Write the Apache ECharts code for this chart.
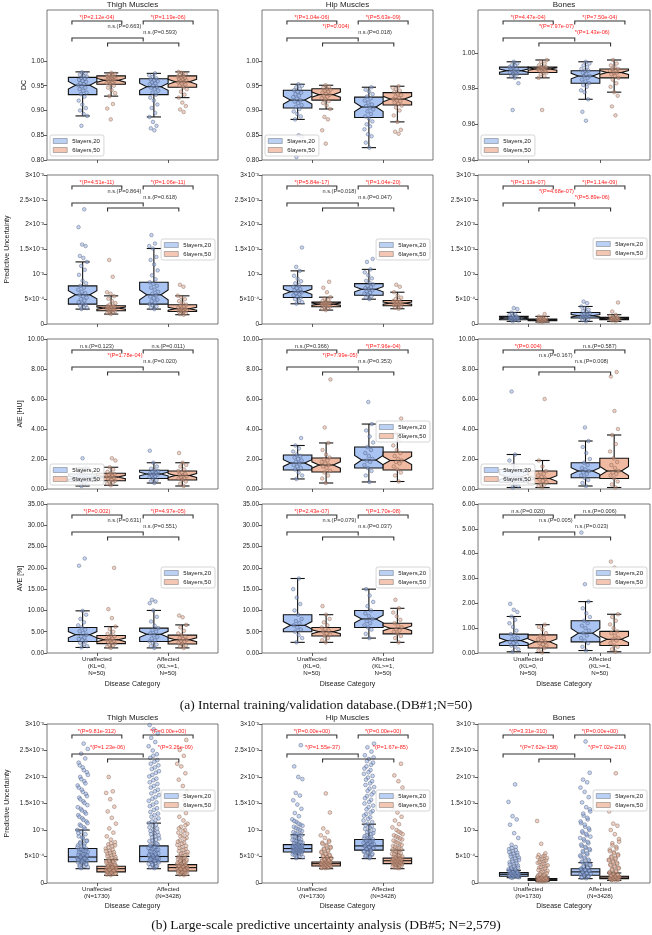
<!DOCTYPE html>
<html><head><meta charset="utf-8">
<script src="https://cdn.jsdelivr.net/npm/echarts@6/dist/echarts.min.js"></script>
<style>html,body{margin:0;padding:0;background:#fff}#c{width:652px;height:935px}</style>
</head><body><div id="c"></div>
<script>
// ---------------- DATA ----------------
const titles = ['Thigh Muscles', 'Hip Muscles', 'Bones'];
const hueNames = ['5layers,20', '6layers,50'];
const catLabelsA = ['Unaffected\n(KL=0,\nN=50)', 'Affected\n(KL>=1,\nN=50)'];
const catLabelsB = ['Unaffected\n(N=1730)', 'Affected\n(N=3428)'];
const yNames = ['DC', 'Predictive Uncertainty', 'AIE [HU]', 'AVE [%]', 'Predictive Uncertainty'];
const captionA = '(a) Internal training/validation database.(DB#1;N=50)';
const captionB = '(b) Large-scale predictive uncertainty analysis (DB#5; N=2,579)';
// tick labels (predictive uncertainty in units of 1e-4)
const puTicks = [0, 5, 10, 15, 20, 25, 30];
const puTickLabels = ['0', '5×10⁻⁴', '10⁻³', '1.5×10⁻³', '2×10⁻³', '2.5×10⁻³', '3×10⁻³'];
const dcTicks = [0.80, 0.85, 0.90, 0.95, 1.00];
const dcBoneTicks = [0.94, 0.96, 0.98, 1.00];
const aieTicks = [0, 2, 4, 6, 8, 10];
const aveTicks = [0, 5, 10, 15, 20, 25, 30, 35];
const aveBoneTicks = [0, 1, 2, 3, 4, 5, 6];

// box stats: [lowWhisker, Q1, median, Q3, highWhisker] for [Unaff-5l, Unaff-6l, Aff-5l, Aff-6l]
const dcThighBox = [[0.889,0.932,0.951,0.967,0.978],[0.929,0.953,0.961,0.970,0.976],[0.887,0.932,0.948,0.964,0.975],[0.926,0.947,0.958,0.970,0.978]];
const dcHipBox = [[0.882,0.905,0.921,0.941,0.953],[0.903,0.921,0.932,0.944,0.951],[0.825,0.886,0.907,0.927,0.947],[0.877,0.911,0.923,0.936,0.949]];
const dcBoneBox = [[0.986,0.988,0.990,0.992,0.995],[0.986,0.989,0.991,0.992,0.996],[0.974,0.983,0.987,0.990,0.995],[0.978,0.986,0.989,0.991,0.996]];
const puThighBox = [[3.0,4.0,5.87,7.67,12.5],[2.0,2.67,3.2,3.67,5.67],[3.0,4.0,5.87,8.4,15.2],[1.87,2.53,3.07,3.87,5.67]];
const puHipBox = [[4.07,5.33,6.5,7.7,10.7],[2.8,3.47,4.0,4.4,5.4],[5.0,5.8,7.0,8.13,11.0],[3.07,3.67,4.2,4.73,6.4]];
const puBoneBox = [[0.53,0.87,1.2,1.53,2.33],[0.4,0.67,0.87,1.0,1.53],[0.53,1.2,1.67,2.33,3.53],[0.53,0.87,1.07,1.33,1.87]];
const aieThighBox = [[0.2,0.5,0.75,1.0,1.4],[0.25,0.55,0.8,1.05,1.45],[0.4,0.7,1.0,1.25,1.75],[0.2,0.6,0.9,1.2,1.75]];
const aieHipBox = [[0.67,1.27,1.73,2.27,2.9],[0.4,1.13,1.6,2.07,3.07],[0.47,1.4,1.93,2.8,4.33],[0.5,1.27,1.9,2.47,3.7]];
const aieBoneBox = [[0.1,0.45,0.8,1.3,2.3],[0.1,0.35,0.7,1.2,1.9],[0.2,0.75,1.2,1.75,3.2],[0.1,0.7,1.2,2.05,3.6]];
const aveThighBox = [[1.3,2.7,4.3,6.0,9.9],[1.2,2.2,3.1,4.1,6.2],[1.2,2.7,4.4,5.85,10.0],[1.2,2.1,3.1,4.2,6.6]];
const aveHipBox = [[2.5,5.0,6.5,9.0,17.5],[2.5,4.0,5.0,6.0,9.0],[3.5,6.0,8.0,10.0,15.0],[2.5,4.5,5.8,7.0,10.5]];
const aveBoneBox = [[0.05,0.3,0.5,0.76,1.47],[0.02,0.2,0.45,0.73,1.14],[0.1,0.45,0.8,1.3,2.07],[0.05,0.3,0.55,0.87,1.56]];
const lsThighBox = [[2.7,4.0,4.9,6.5,10.0],[1.45,2.1,2.7,3.15,4.4],[2.7,4.0,5.0,7.0,11.3],[1.45,2.27,2.9,3.47,5.0]];
const lsHipBox = [[4.6,5.86,6.5,7.25,9.1],[2.7,3.2,3.65,3.97,4.8],[4.6,6.2,7.0,8.2,11.1],[2.7,3.65,4.2,4.7,6.2]];
const lsBoneBox = [[1.0,1.26,1.64,1.95,2.4],[0.32,0.5,0.69,0.82,1.13],[0.82,1.45,2.1,2.7,3.84],[0.5,0.82,1.13,1.26,1.89]];

// individual points
const dcThighPts = [
 [0.869,0.889,0.893,0.900,0.905,0.912,0.920,0.928,0.933,0.936,0.940,0.943,0.946,0.949,0.951,0.953,0.955,0.958,0.960,0.962,0.964,0.966,0.968,0.970,0.972,0.975,0.977],
 [0.882,0.904,0.913,0.929,0.935,0.941,0.946,0.950,0.953,0.955,0.957,0.959,0.960,0.961,0.962,0.963,0.964,0.965,0.966,0.967,0.968,0.969,0.970,0.971,0.972,0.974,0.976],
 [0.860,0.864,0.869,0.877,0.887,0.895,0.905,0.912,0.920,0.926,0.932,0.936,0.940,0.943,0.946,0.948,0.950,0.953,0.955,0.957,0.959,0.961,0.963,0.965,0.968,0.971,0.975],
 [0.897,0.902,0.909,0.916,0.926,0.932,0.938,0.943,0.947,0.950,0.953,0.955,0.957,0.958,0.960,0.961,0.963,0.964,0.966,0.967,0.969,0.970,0.972,0.974,0.976,0.978]];
const dcHipPts = [
 [0.806,0.847,0.850,0.882,0.888,0.893,0.898,0.903,0.907,0.911,0.915,0.918,0.921,0.924,0.927,0.930,0.933,0.936,0.938,0.941,0.944,0.947,0.950,0.953],
 [0.833,0.860,0.882,0.887,0.903,0.910,0.915,0.919,0.922,0.925,0.928,0.930,0.932,0.934,0.936,0.938,0.940,0.942,0.944,0.946,0.948,0.951],
 [0.825,0.835,0.848,0.852,0.862,0.868,0.872,0.878,0.884,0.888,0.893,0.898,0.902,0.906,0.909,0.912,0.916,0.920,0.924,0.928,0.933,0.938,0.942,0.947],
 [0.853,0.857,0.861,0.877,0.890,0.900,0.906,0.910,0.913,0.916,0.919,0.921,0.923,0.925,0.928,0.931,0.934,0.937,0.940,0.943,0.946,0.949]];
const dcBonePts = [
 [0.968,0.983,0.986,0.987,0.988,0.988,0.989,0.989,0.990,0.990,0.990,0.991,0.991,0.992,0.992,0.993,0.993,0.994,0.995],
 [0.968,0.986,0.987,0.988,0.989,0.989,0.990,0.990,0.991,0.991,0.991,0.992,0.992,0.992,0.993,0.994,0.995,0.996],
 [0.962,0.967,0.974,0.978,0.979,0.981,0.982,0.983,0.984,0.985,0.986,0.987,0.987,0.988,0.989,0.990,0.990,0.991,0.992,0.993,0.994,0.995],
 [0.965,0.970,0.976,0.978,0.981,0.983,0.985,0.986,0.987,0.988,0.989,0.989,0.990,0.990,0.991,0.991,0.992,0.993,0.994,0.996]];
const puThighPts = [
 [3.0,3.2,3.4,3.7,3.9,4.1,4.4,4.7,5.0,5.3,5.6,5.9,6.2,6.5,6.9,7.3,7.7,8.2,8.7,9.9,10.9,11.7,12.5,13.3,13.7,15.7,16.0,19.5,23.1],
 [2.0,2.2,2.4,2.5,2.6,2.7,2.8,2.9,3.0,3.1,3.2,3.3,3.4,3.5,3.6,3.7,3.9,4.2,4.6,5.1,5.6,6.1,6.4,9.5,12.9],
 [3.0,3.2,3.5,3.8,4.0,4.3,4.6,4.9,5.2,5.5,5.8,6.1,6.5,6.9,7.3,7.7,8.1,8.4,9.0,9.8,10.8,12.0,12.9,13.5,15.2,15.7,16.2,17.9],
 [1.87,2.0,2.2,2.4,2.5,2.6,2.7,2.8,2.9,3.0,3.1,3.2,3.3,3.5,3.7,3.9,4.2,4.6,5.0,5.4,5.7,7.5,7.9]];
const puHipPts = [
 [4.1,4.4,4.7,5.0,5.3,5.5,5.8,6.0,6.2,6.4,6.6,6.8,7.0,7.2,7.5,7.8,8.2,8.6,9.1,9.7,10.7,11.5,15.4],
 [2.8,3.0,3.2,3.4,3.5,3.6,3.7,3.8,3.9,4.0,4.1,4.2,4.3,4.4,4.6,4.8,5.1,5.4,6.4,7.3,8.5],
 [5.0,5.3,5.6,5.9,6.1,6.3,6.6,6.8,7.0,7.2,7.4,7.7,8.0,8.3,8.7,9.2,9.8,10.4,11.0,12.5,13.1],
 [3.07,3.3,3.5,3.7,3.8,3.9,4.0,4.1,4.2,4.3,4.4,4.5,4.6,4.8,5.0,5.3,5.7,6.4,7.5,7.9]];
const puBonePts = [
 [0.55,0.7,0.8,0.9,1.0,1.05,1.1,1.15,1.2,1.25,1.3,1.4,1.5,1.6,1.8,2.0,2.3,3.0,3.2],
 [0.4,0.5,0.6,0.65,0.7,0.75,0.8,0.85,0.9,0.95,1.0,1.1,1.2,1.35,1.5,2.0],
 [0.55,0.8,1.0,1.2,1.3,1.4,1.5,1.6,1.7,1.8,1.9,2.0,2.2,2.4,2.6,2.9,3.2,3.5,4.2,4.5],
 [0.55,0.7,0.8,0.9,0.95,1.0,1.05,1.1,1.15,1.2,1.3,1.4,1.6,1.85,2.5,4.33]];
const aieThighPts = [
 [0.2,0.3,0.4,0.45,0.5,0.55,0.6,0.65,0.7,0.75,0.8,0.85,0.9,0.95,1.0,1.1,1.2,1.4,2.05],
 [0.25,0.35,0.45,0.5,0.55,0.6,0.7,0.75,0.8,0.85,0.9,0.95,1.0,1.05,1.15,1.3,1.45,1.9,2.05],
 [0.4,0.5,0.6,0.7,0.8,0.85,0.9,0.95,1.0,1.05,1.1,1.15,1.2,1.25,1.35,1.5,1.75,2.55],
 [0.2,0.35,0.5,0.6,0.7,0.75,0.8,0.85,0.9,0.95,1.0,1.1,1.2,1.3,1.5,1.6,1.75,2.4]];
const aieHipPts = [
 [0.67,0.9,1.1,1.3,1.4,1.5,1.6,1.7,1.8,1.9,2.0,2.1,2.2,2.3,2.5,2.7,2.9,3.4],
 [0.4,0.7,0.9,1.1,1.2,1.4,1.5,1.6,1.7,1.8,1.9,2.0,2.1,2.3,2.6,3.07,4.1,7.3],
 [0.47,0.9,1.2,1.4,1.6,1.8,1.9,2.0,2.2,2.4,2.6,2.8,3.1,3.5,3.9,4.33,5.8],
 [0.5,0.9,1.1,1.3,1.5,1.7,1.8,1.9,2.0,2.2,2.4,2.6,2.9,3.3,3.7,4.7]];
const aieBonePts = [
 [0.1,0.2,0.3,0.4,0.5,0.6,0.7,0.8,0.9,1.0,1.1,1.2,1.4,1.6,1.9,2.3,6.5],
 [0.1,0.2,0.3,0.35,0.45,0.55,0.65,0.7,0.8,0.9,1.0,1.1,1.2,1.5,1.9,6.0],
 [0.2,0.4,0.6,0.75,0.9,1.0,1.1,1.2,1.3,1.4,1.6,1.75,2.0,2.4,2.8,3.2,4.1],
 [0.1,0.3,0.5,0.7,0.9,1.0,1.1,1.2,1.4,1.6,1.8,2.05,2.5,3.0,3.6,4.0,5.2,7.5,7.8]];
const aveThighPts = [
 [1.3,1.6,2.0,2.4,2.7,3.0,3.3,3.6,3.9,4.3,4.7,5.1,5.5,6.0,6.5,7.2,8.0,9.0,9.9,20.5,22.2],
 [1.2,1.5,1.8,2.0,2.2,2.4,2.6,2.8,3.0,3.2,3.4,3.6,3.9,4.1,4.5,5.0,5.6,6.2,8.2,10.3,20.0],
 [1.2,1.6,2.0,2.4,2.7,3.0,3.4,3.8,4.2,4.6,5.0,5.4,5.85,6.4,7.4,8.5,10.0,11.7,12.1,12.5],
 [1.2,1.5,1.8,2.1,2.4,2.7,2.9,3.1,3.3,3.5,3.8,4.2,4.6,5.2,6.0,6.6,8.4,8.8]];
const aveHipPts = [
 [2.5,3.5,4.2,5.0,5.5,6.0,6.5,7.0,7.5,8.0,9.0,10.0,11.5,13.0,15.0,17.5],
 [2.5,3.0,3.5,4.0,4.3,4.6,5.0,5.3,5.6,6.0,6.5,7.2,8.0,9.0,11.0],
 [3.5,4.5,5.5,6.0,6.5,7.0,7.5,8.0,8.7,9.3,10.0,11.0,12.0,13.5,15.0],
 [2.5,3.5,4.0,4.5,5.0,5.3,5.6,6.0,6.4,7.0,7.8,8.6,9.5,10.5,12.5]];
const aveBonePts = [
 [0.05,0.15,0.25,0.3,0.35,0.4,0.45,0.5,0.55,0.6,0.7,0.76,0.9,1.05,1.2,1.34,1.47,1.65,1.74,1.98],
 [0.02,0.1,0.2,0.25,0.3,0.35,0.4,0.45,0.5,0.55,0.6,0.7,0.8,0.95,1.05,1.14],
 [0.1,0.25,0.4,0.5,0.6,0.7,0.8,0.9,1.0,1.1,1.2,1.3,1.45,1.6,1.8,2.07,2.77,4.85],
 [0.05,0.15,0.25,0.3,0.4,0.5,0.55,0.6,0.7,0.8,0.87,1.0,1.15,1.3,1.45,1.56,3.44,3.68]];
const lsThighPts = [
 [2.8,3.0,3.2,3.4,3.6,3.8,3.9,4.0,4.1,4.2,4.3,4.4,4.5,4.6,4.7,4.8,4.9,5.0,5.1,5.3,5.5,5.7,5.9,6.1,6.3,6.5,6.8,7.1,7.4,7.7,8.0,8.4,8.8,9.2,9.6,10.0,10.5,11.0,11.6,12.2,12.8,13.4,14.0,14.7,15.4,16.1,16.8,17.6,18.4,19.2,20.0,20.9,21.8,22.7,23.5,24.4,25.3,26.3,
  3.1,3.5,4.05,4.35,4.65,4.95,5.2,5.4,5.8,6.0,6.4,6.7,7.0,7.5,7.9,8.6,9.4,10.2,10.8,11.3,11.9,12.5,13.1,13.7,14.3,15.1,15.8,16.4,17.2,18.0,18.8,19.6,20.4,21.3,22.2],
 [1.5,1.6,1.7,1.8,1.9,2.0,2.1,2.2,2.3,2.4,2.5,2.6,2.7,2.8,2.9,3.0,3.1,3.2,3.3,3.5,3.7,3.9,4.1,4.3,4.6,4.9,5.2,5.5,5.8,6.1,6.5,6.9,7.3,7.7,8.2,8.8,9.5,10.3,11.2,12.3,13.5,14.4,15.8,17.0,17.3,20.0,
  1.75,1.95,2.15,2.35,2.55,2.75,2.95,3.15,3.4,3.6,3.8,4.0,4.2,4.45,4.75,5.05,5.35,5.65,6.0,6.3,6.7,7.1,7.5],
 [2.8,3.0,3.2,3.4,3.6,3.8,4.0,4.1,4.2,4.3,4.4,4.5,4.6,4.7,4.8,4.9,5.0,5.1,5.2,5.4,5.6,5.8,6.0,6.2,6.4,6.6,6.8,7.0,7.3,7.6,7.9,8.2,8.6,9.0,9.4,9.8,10.3,10.8,11.3,11.9,12.5,13.1,13.8,14.5,15.2,15.9,16.6,17.3,18.0,18.7,19.4,20.1,20.8,21.5,22.2,22.9,23.6,24.3,25.0,25.8,26.6,27.4,28.2,29.0,29.8,
  3.1,3.5,3.9,4.15,4.45,4.75,5.05,5.3,5.5,5.9,6.3,6.7,7.1,7.5,8.0,8.4,8.8,9.2,9.6,10.0,10.5,11.0,11.6,12.2,12.8,13.4,14.1,14.8,15.5,16.2,16.9,17.6,18.3,19.0,19.7,20.4,21.1,21.8,22.5,23.2,24.0],
 [1.5,1.6,1.7,1.8,1.9,2.0,2.1,2.2,2.3,2.4,2.5,2.6,2.7,2.8,2.9,3.0,3.1,3.2,3.3,3.4,3.5,3.7,3.9,4.1,4.3,4.5,4.8,5.1,5.4,5.7,6.0,6.4,6.8,7.2,7.6,8.0,8.5,9.0,9.5,10.0,10.6,11.2,11.8,12.5,13.2,14.0,14.8,15.7,16.6,17.2,18.3,19.5,20.7,22.0,22.5,24.0,25.1,27.0,
  2.05,2.25,2.45,2.65,2.85,3.05,3.25,3.45,3.6,3.8,4.0,4.2,4.4,4.65,4.95,5.25,5.55,5.85,6.2,6.6,7.0,7.4,7.8,8.3,8.8,9.3,9.8,10.3,10.9]];
const lsHipPts = [
 [4.7,4.9,5.1,5.3,5.5,5.7,5.8,5.9,6.0,6.1,6.2,6.3,6.4,6.5,6.6,6.7,6.8,6.9,7.0,7.1,7.2,7.4,7.6,7.8,8.0,8.2,8.5,8.8,9.1,9.4,9.8,10.2,10.6,11.0,11.5,12.0,12.6,13.2,14.0,14.8,15.6,16.5,17.0,19.6,20.0,22.0,26.0,
  5.0,5.4,5.6,5.75,5.85,5.95,6.05,6.15,6.25,6.35,6.45,6.55,6.65,6.75,6.85,6.95,7.05,7.15,7.3,7.5,7.7,7.9,8.1,8.4,8.7,9.0,9.3,9.6,10.0,10.4,10.8,11.2,11.7],
 [2.8,2.9,3.0,3.1,3.2,3.3,3.4,3.5,3.6,3.7,3.8,3.9,4.0,4.1,4.2,4.3,4.5,4.7,4.9,5.1,5.3,5.6,5.9,6.2,6.5,6.8,7.2,7.6,8.0,8.5,9.0,9.6,10.3,13.3,16.9,
  2.85,2.95,3.05,3.15,3.25,3.35,3.45,3.55,3.65,3.75,3.85,3.95,4.05,4.15,4.25,4.4,4.6,4.8,5.0,5.2,5.45,5.75,6.05,6.35,6.65,7.0,7.4,7.8],
 [4.7,5.0,5.3,5.6,5.9,6.1,6.3,6.5,6.7,6.9,7.0,7.1,7.3,7.5,7.7,7.9,8.1,8.4,8.7,9.0,9.4,9.8,10.2,10.7,11.2,11.8,12.4,13.0,13.6,14.3,15.0,15.7,16.4,17.1,17.8,18.5,19.2,19.9,20.6,21.3,22.0,22.7,23.4,24.1,24.8,25.6,26.3,
  4.9,5.2,5.5,5.8,6.0,6.2,6.4,6.6,6.8,7.05,7.2,7.4,7.6,7.8,8.0,8.25,8.55,8.85,9.2,9.6,10.0,10.45,10.9,11.5,12.1,12.7,13.3,13.9,14.6,15.3,16.0,16.7,17.4,18.1,18.8,19.5,20.2,20.9,21.6,22.3,23.0,23.7],
 [2.8,3.0,3.2,3.4,3.5,3.6,3.7,3.8,3.9,4.0,4.1,4.2,4.3,4.4,4.5,4.6,4.7,4.9,5.1,5.3,5.5,5.8,6.1,6.4,6.7,7.0,7.4,7.8,8.2,8.6,9.0,9.5,10.0,10.5,11.1,11.8,12.5,13.3,14.2,15.2,16.2,18.0,19.2,20.3,22.5,
  2.9,3.1,3.3,3.45,3.55,3.65,3.75,3.85,3.95,4.05,4.15,4.25,4.35,4.45,4.55,4.65,4.8,5.0,5.2,5.4,5.65,5.95,6.25,6.55,6.85,7.2,7.6,8.0,8.4,8.8,9.2,9.7]];
const lsBonePts = [
 [1.0,1.1,1.2,1.3,1.4,1.5,1.6,1.7,1.8,1.9,2.0,2.1,2.2,2.4,2.6,2.8,3.0,3.3,3.6,3.9,4.2,4.5,4.8,5.1,5.4,5.7,6.0,6.4,6.8,7.2,8.5,9.4,11.0,12.0,12.6,15.3,18.6,
  1.05,1.15,1.25,1.35,1.45,1.55,1.65,1.75,1.85,1.95,2.05,2.3,2.5,2.7,2.9,3.15,3.45,3.75,4.05,4.35,4.65,4.95,5.25,5.55,5.85,6.2,6.6],
 [0.35,0.4,0.45,0.5,0.55,0.6,0.65,0.7,0.75,0.8,0.9,1.0,1.1,1.3,1.5,1.7,2.0,2.3,2.6,2.9,3.2,3.5,3.8,4.1,4.4,4.7,5.0,5.3,5.6,7.4,11.7,
  0.38,0.42,0.48,0.52,0.58,0.62,0.68,0.72,0.78,0.85,0.95,1.05,1.2,1.4,1.6,1.85,2.15,2.45,2.75,3.05,3.35,3.65,3.95,4.25,4.55,4.85,5.15],
 [0.9,1.0,1.2,1.4,1.6,1.8,2.0,2.2,2.4,2.6,2.8,3.0,3.3,3.6,3.9,4.2,4.6,5.0,5.4,5.8,6.2,6.6,7.0,7.5,8.0,8.5,9.0,9.5,10.0,10.6,11.3,12.0,12.7,13.5,14.3,15.2,16.2,17.2,18.0,19.0,19.5,20.8,26.7,
  1.1,1.3,1.5,1.7,1.9,2.1,2.3,2.5,2.7,2.9,3.15,3.45,3.75,4.05,4.4,4.8,5.2,5.6,6.0,6.4,6.8,7.25,7.75,8.25,8.75,9.25,9.75,10.3,11.0,11.6,12.3,13.1,13.9],
 [0.5,0.6,0.7,0.8,0.9,1.0,1.1,1.2,1.3,1.4,1.6,1.8,2.0,2.3,2.6,2.9,3.2,3.5,3.8,4.1,4.4,4.7,5.0,5.4,5.8,6.3,6.8,7.5,8.3,9.2,10.0,10.8,11.2,13.5,20.7,
  0.55,0.65,0.75,0.85,0.95,1.05,1.15,1.25,1.35,1.5,1.7,1.9,2.15,2.45,2.75,3.05,3.35,3.65,3.95,4.25,4.55,4.85,5.2,5.6,6.0,6.5,7.1,7.8]];

// p-value annotations: [Unaff 5l vs 6l, Aff 5l vs 6l, 5l Unaff vs Aff, 6l Unaff vs Aff]
const dcThighP = ['*(P=2.12e-04)', '*(P=1.19e-06)', 'n.s.(P=0.663)', 'n.s.(P=0.593)'];
const dcHipP = ['*(P=1.04e-06)', '*(P=5.63e-09)', '*(P=0.004)', 'n.s.(P=0.018)'];
const dcBoneP = ['*(P=4.47e-04)', '*(P=7.50e-04)', '*(P=7.97e-07)', '*(P=1.43e-06)'];
const puThighP = ['*(P=4.51e-11)', '*(P=1.06e-11)', 'n.s.(P=0.864)', 'n.s.(P=0.618)'];
const puHipP = ['*(P=5.84e-17)', '*(P=1.04e-20)', 'n.s.(P=0.018)', 'n.s.(P=0.047)'];
const puBoneP = ['*(P=1.13e-07)', '*(P=1.14e-09)', '*(P=4.68e-07)', '*(P=5.89e-06)'];
const aieThighP = ['n.s.(P=0.123)', 'n.s.(P=0.011)', '*(P=1.78e-04)', 'n.s.(P=0.020)'];
const aieHipP = ['n.s.(P=0.366)', '*(P=7.96e-04)', '*(P=7.99e-05)', 'n.s.(P=0.353)'];
const aieBoneP = ['*(P=0.004)', 'n.s.(P=0.587)', 'n.s.(P=0.167)', 'n.s.(P=0.008)'];
const aveThighP = ['*(P=0.002)', '*(P=4.97e-05)', 'n.s.(P=0.631)', 'n.s.(P=0.551)'];
const aveHipP = ['*(P=2.43e-07)', '*(P=1.70e-08)', 'n.s.(P=0.079)', 'n.s.(P=0.037)'];
const aveBoneP = ['n.s.(P=0.020)', 'n.s.(P=0.006)', 'n.s.(P=0.005)', 'n.s.(P=0.023)'];
const lsThighP = ['*(P=9.81e-312)', '*(P=0.00e+00)', '*(P=1.23e-06)', '*(P=3.26e-09)'];
const lsHipP = ['*(P=0.00e+00)', '*(P=0.00e+00)', '*(P=1.55e-37)', '*(P=1.67e-85)'];
const lsBoneP = ['*(P=3.31e-310)', '*(P=0.00e+00)', '*(P=7.62e-158)', '*(P=7.02e-216)'];

// ---------------- LAYOUT / STYLE ----------------
const FONT = 'Liberation Sans';
const HUE_FILL = ['#a9c4f2', '#f0b9a1'];
const PT_FILL = ['rgba(140,170,228,0.6)', 'rgba(222,160,134,0.6)'];
const PT_EDGE = ['rgba(70,82,110,0.85)', 'rgba(115,88,76,0.85)'];
const COL_L = [47, 262, 478], COL_W = [171, 171, 172];
const ROW_T = [10, 175, 339, 504, 724], ROW_H = [150, 149, 150, 149, 159];
const CENTERS = [-0.2, 0.2, 0.8, 1.2];
const BRACKETS = [[-0.35, 0.35], [0.65, 1.35], [-0.35, 0.65], [0.15, 1.15]];

const puFmt = v => { let k = 0; puTicks.forEach((t, i) => { if (Math.abs(t - v) < 1e-6) k = i; }); return puTickLabels[k]; };
const f2 = v => v.toFixed(2);
const Y_DC = {min: 0.80, max: 1.103, ticks: dcTicks, fmt: f2};
const Y_DCB = {min: 0.94, max: 1.024, ticks: dcBoneTicks, fmt: f2};
const Y_PU = {min: 0, max: 30, ticks: puTicks, fmt: puFmt};
const Y_AIE = {min: 0, max: 10, ticks: aieTicks, fmt: f2};
const Y_AVE = {min: 0, max: 35, ticks: aveTicks, fmt: f2};
const Y_AVEB = {min: 0, max: 6, ticks: aveBoneTicks, fmt: f2};

const panels = [
 {box: dcThighBox, pts: dcThighPts, p: dcThighP, y: Y_DC, leg: ['ll']},
 {box: dcHipBox, pts: dcHipPts, p: dcHipP, y: Y_DC, leg: ['ll']},
 {box: dcBoneBox, pts: dcBonePts, p: dcBoneP, y: Y_DCB, leg: ['ll']},
 {box: puThighBox, pts: puThighPts, p: puThighP, y: Y_PU, leg: ['r', 64]},
 {box: puHipBox, pts: puHipPts, p: puHipP, y: Y_PU, leg: ['r', 64]},
 {box: puBoneBox, pts: puBonePts, p: puBoneP, y: Y_PU, leg: ['r', 63]},
 {box: aieThighBox, pts: aieThighPts, p: aieThighP, y: Y_AIE, leg: ['ll']},
 {box: aieHipBox, pts: aieHipPts, p: aieHipP, y: Y_AIE, leg: ['r', 82]},
 {box: aieBoneBox, pts: aieBonePts, p: aieBoneP, y: Y_AIE, leg: ['ll']},
 {box: aveThighBox, pts: aveThighPts, p: aveThighP, y: Y_AVE, leg: ['r', 63]},
 {box: aveHipBox, pts: aveHipPts, p: aveHipP, y: Y_AVE, leg: ['r', 63]},
 {box: aveBoneBox, pts: aveBonePts, p: aveBoneP, y: Y_AVEB, leg: ['r', 63]},
 {box: lsThighBox, pts: lsThighPts, p: lsThighP, y: Y_PU, leg: ['r', 66]},
 {box: lsHipBox, pts: lsHipPts, p: lsHipP, y: Y_PU, leg: ['r', 66]},
 {box: lsBoneBox, pts: lsBonePts, p: lsBoneP, y: Y_PU, leg: ['r', 66]}
];
const yNameGap = [17, 36, 21, 21, 36];

function jit(i) { return ((i * 0.6180339887 + 0.37) % 1) * 2 - 1; }

function makeBoxRender(notched, n) {
  return function (params, api) {
    const cx = api.value(0), lo = api.value(1), q1 = api.value(2), md = api.value(3), q3 = api.value(4), hi = api.value(5), h = api.value(6);
    const X = x => api.coord([x, md])[0];
    const Yc = v => api.coord([cx, v])[1];
    const L = X(cx - 0.2), R = X(cx + 0.2), C = X(cx), cl = X(cx - 0.1), cr = X(cx + 0.1);
    let poly, mL, mR;
    if (notched) {
      const ci = 1.57 * (q3 - q1) / Math.sqrt(n);
      const a = Yc(md - ci), b = Yc(md + ci);
      poly = [[L, Yc(q1)], [R, Yc(q1)], [R, a], [cr, Yc(md)], [R, b], [R, Yc(q3)], [L, Yc(q3)], [L, b], [cl, Yc(md)], [L, a]];
      mL = cl; mR = cr;
    } else {
      poly = [[L, Yc(q1)], [R, Yc(q1)], [R, Yc(q3)], [L, Yc(q3)]];
      mL = L; mR = R;
    }
    const st = {stroke: '#111', lineWidth: 1.1};
    return {type: 'group', children: [
      {type: 'line', shape: {x1: C, y1: Yc(q1), x2: C, y2: Yc(lo)}, style: st},
      {type: 'line', shape: {x1: C, y1: Yc(q3), x2: C, y2: Yc(hi)}, style: st},
      {type: 'line', shape: {x1: cl, y1: Yc(lo), x2: cr, y2: Yc(lo)}, style: st},
      {type: 'line', shape: {x1: cl, y1: Yc(hi), x2: cr, y2: Yc(hi)}, style: st},
      {type: 'polygon', shape: {points: poly}, style: {fill: HUE_FILL[h], stroke: '#111', lineWidth: 1.1}},
      {type: 'line', shape: {x1: mL, y1: Yc(md), x2: mR, y2: Yc(md)}, style: st}
    ]};
  };
}

function makeBracketRender(labels, isB, yref) {
  return function (params, api) {
    const i = params.dataIndex;
    const top = params.coordSys.y;
    const px = x => api.coord([x, yref])[0];
    const off = isB ? [11, 11, 30, 35] : [11, 11, 28, 33];
    const yl = top + off[i];
    const a = px(api.value(0)), b = px(api.value(1));
    const lab = labels[i];
    const red = lab.charAt(0) === '*';
    let tx, ty, al = 'center', va = 'middle';
    if (i < 2) { tx = (a + b) / 2; ty = yl - 0.5; va = 'bottom'; }
    else if (!isB) { tx = (a + b) / 2; ty = top + (i === 2 ? 16 : 22); al = 'left'; }
    else { tx = i === 2 ? (a + b) / 2 : px(1.1); ty = top + 23; }
    return {type: 'group', children: [
      {type: 'polyline', shape: {points: [[a, yl + 3.5], [a, yl], [b, yl], [b, yl + 3.5]]}, style: {stroke: '#333', lineWidth: 1.1, fill: 'none'}},
      {type: 'text', style: {text: lab, x: tx, y: ty, fill: red ? '#ff1f1f' : '#333', fontSize: 5.6, fontFamily: FONT, align: al, verticalAlign: va, textAlign: al, textVerticalAlign: va}}
    ]};
  };
}

const option = {animation: false, textStyle: {fontFamily: FONT}, grid: [], xAxis: [], yAxis: [], series: [], legend: [], graphic: []};

panels.forEach((P, k) => {
  const r = Math.floor(k / 3), c = k % 3;
  const isB = r === 4;
  const gl = COL_L[c], gw = COL_W[c], gt = ROW_T[r], gh = ROW_H[r];
  option.grid.push({left: gl, top: gt, width: gw, height: gh, show: true, borderColor: '#555', borderWidth: 0.8, backgroundColor: 'transparent'});
  const showX = r >= 3;
  const cats = isB ? catLabelsB : catLabelsA;
  option.xAxis.push({
    type: 'value', gridIndex: k, min: -0.7, max: 1.7, position: 'bottom',
    axisLine: {show: false, onZero: false}, splitLine: {show: false},
    axisTick: {show: true, customValues: [0, 1], length: 3, lineStyle: {color: '#333', width: 0.8}},
    axisLabel: {show: showX, customValues: [0, 1], formatter: v => cats[Math.round(v)], fontSize: 6.2, lineHeight: 6.8, color: '#222', margin: 3},
    name: showX ? 'Disease Category' : '', nameLocation: 'middle', nameGap: isB ? 20 : 28,
    nameTextStyle: {fontSize: 7, color: '#222'}
  });
  option.yAxis.push({
    type: 'value', gridIndex: k, min: P.y.min, max: P.y.max, position: 'left',
    axisLine: {show: false, onZero: false}, splitLine: {show: false},
    axisTick: {show: true, customValues: P.y.ticks, length: 3, lineStyle: {color: '#333', width: 0.8}},
    axisLabel: {customValues: P.y.ticks, formatter: P.y.fmt, fontSize: 6.5, color: '#222', margin: 3},
    name: c === 0 ? yNames[r] : '', nameLocation: 'middle', nameGap: yNameGap[r],
    nameTextStyle: {fontSize: 7, color: '#222'}
  });
  // boxes
  option.series.push({
    type: 'custom', xAxisIndex: k, yAxisIndex: k, silent: true, z: 2,
    renderItem: makeBoxRender(!isB, 50),
    encode: {x: 0, y: [1, 2, 3, 4, 5]},
    data: P.box.map((b, g) => [CENTERS[g], b[0], b[1], b[2], b[3], b[4], g % 2])
  });
  // points
  [0, 1].forEach(h => {
    const data = [];
    [h, h + 2].forEach(g => {
      P.pts[g].forEach((v, i) => data.push([CENTERS[g] + jit(i + g * 5) * (isB ? 0.075 : 0.065), v]));
    });
    option.series.push({
      type: 'scatter', name: hueNames[h], xAxisIndex: k, yAxisIndex: k, z: 3, silent: true,
      symbolSize: isB ? 3.8 : 3.6, data: data,
      itemStyle: {color: PT_FILL[h], borderColor: PT_EDGE[h], borderWidth: 0.6}
    });
  });
  // significance brackets
  option.series.push({
    type: 'custom', xAxisIndex: k, yAxisIndex: k, silent: true, z: 5,
    renderItem: makeBracketRender(P.p, isB, P.y.min),
    encode: {x: [0, 1], y: 2},
    data: BRACKETS.map(b => [b[0], b[1], P.y.min])
  });
  // legend
  const lg = {
    orient: 'vertical', selectedMode: false, itemWidth: 14, itemHeight: 5, itemGap: 3,
    padding: [3, 4, 3, 3], backgroundColor: 'rgba(255,255,255,0.85)', borderColor: '#ccc', borderWidth: 0.8, borderRadius: 2,
    textStyle: {fontSize: 6, color: '#222', fontFamily: FONT},
    data: hueNames.map((n, h) => ({name: n, icon: 'rect', itemStyle: {color: HUE_FILL[h], borderColor: '#555', borderWidth: 0.5}}))
  };
  if (P.leg[0] === 'll') { lg.left = gl + 3; lg.top = gt + gh - 25; }
  else { lg.right = 652 - (gl + gw) + 3; lg.top = gt + P.leg[1]; }
  option.legend.push(lg);
});

// titles and captions
titles.forEach((t, c) => {
  [5, 718].forEach(y => option.graphic.push({type: 'text', x: COL_L[c] + COL_W[c] / 2, y: y,
    style: {text: t, fontSize: 8, fontFamily: FONT, fill: '#222', align: 'center', verticalAlign: 'middle', textAlign: 'center', textVerticalAlign: 'middle'}}));
});
[[captionA, 705], [captionB, 925]].forEach(([t, y]) => option.graphic.push({type: 'text', x: 326, y: y,
  style: {text: t, fontSize: 13.5, fontFamily: 'Liberation Serif', fill: '#111', align: 'center', verticalAlign: 'middle', textAlign: 'center', textVerticalAlign: 'middle'}}));

const chart = echarts.init(document.getElementById('c'), null, {renderer: 'canvas'});
chart.setOption(option);
</script></body></html>
